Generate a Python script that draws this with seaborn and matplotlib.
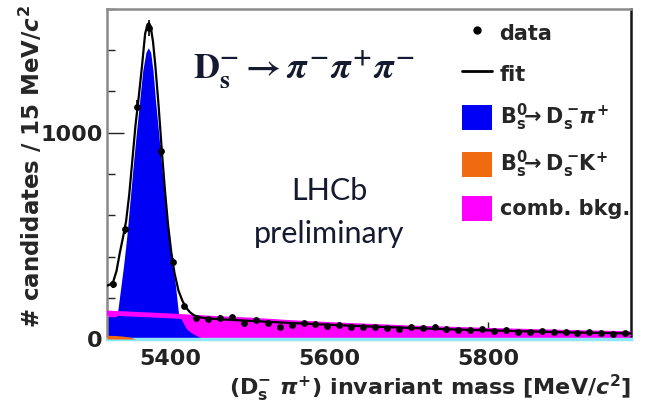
import numpy as np
import pandas as pd
import matplotlib
matplotlib.use("Agg")
import matplotlib.pyplot as plt
from matplotlib.lines import Line2D
from matplotlib.patches import Patch
from matplotlib.ticker import MultipleLocator
import seaborn as sns

# ---------------- data ----------------
bin_centers = np.arange(5327.5, 5980, 15)
counts = [265, 532, 1127, 1510, 912, 372, 160, 104, 96, 104, 106, 80, 92, 80,
          58, 66, 78, 72, 62, 70, 60, 56, 58, 52, 50, 58, 54, 56, 50, 46, 44,
          48, 40, 42, 36, 34, 38, 33, 35, 30, 33, 28, 24, 27]
count_err = [16, 23, 34, 39, 30, 19, 13, 10, 10, 10, 10, 9, 10, 9, 8, 8, 9, 8,
             8, 8, 8, 7, 8, 7, 7, 8, 7, 7, 7, 7, 7, 7, 6, 6, 6, 6, 6, 6, 6, 5,
             6, 5, 5, 5]

fit_x = [5320, 5324, 5328, 5332, 5336, 5340, 5344, 5348, 5352, 5356, 5360,
         5364, 5368, 5371, 5373, 5375, 5378, 5381, 5385, 5389, 5393, 5397,
         5401, 5405, 5410, 5415, 5420, 5425, 5430, 5438, 5450, 5475, 5500,
         5550, 5600, 5650, 5700, 5750, 5800, 5850, 5900, 5950, 5980]
fit_y = [258, 265, 280, 330, 415, 490, 570, 700, 870, 1040, 1175, 1320, 1480,
         1525, 1532, 1515, 1440, 1320, 1130, 915, 720, 550, 420, 320, 235, 185,
         150, 128, 114, 104, 99, 93, 88, 78, 69, 61, 54, 47, 42, 37, 32, 29, 27]

sig_x = [5320, 5332, 5334, 5337, 5341, 5345, 5349, 5353, 5357, 5361, 5365,
         5369, 5372, 5375, 5378, 5381, 5385, 5389, 5393, 5397, 5401, 5406,
         5410, 5415, 5420, 5425, 5430, 5436, 5442, 5980]
sig_y = [108, 108, 150, 240, 360, 500, 670, 840, 1000, 1150, 1300, 1390, 1412,
         1390, 1300, 1160, 1000, 833, 670, 520, 380, 267, 125, 85, 50, 33, 22,
         10, 3, 0]

dsk_x = [5320, 5330, 5340, 5348, 5352, 5356, 5980]
dsk_y = [18, 17, 14, 10, 5, 0, 0]

comb_x = [5320, 5400, 5450, 5500, 5550, 5600, 5650, 5700, 5750, 5800, 5850,
          5900, 5950, 5980]
comb_y = [126, 112, 101, 92, 80, 70, 62, 54, 48, 42, 37, 32, 28, 26]

legend_labels = ["data", "fit",
                 r"$\mathbf{B^0_s}\!\!\rightarrow \mathbf{D^-_s}\!\pi^{+}$",
                 r"$\mathbf{B^0_s}\!\!\rightarrow \mathbf{D^-_s}\!\mathbf{K^{+}}$",
                 "comb. bkg."]

# ---------------- style ----------------
sns.set_theme(style="white")
plt.rcParams["font.family"] = ["DejaVu Sans"]
plt.rcParams["font.weight"] = "bold"
plt.rcParams["mathtext.fontset"] = "dejavusans"

BLUE = "#0000f5"
ORANGE = "#f06a10"
MAGENTA = "#ff00ff"
NAVY = "#161a30"

fig = plt.figure(figsize=(6.45, 4.13), dpi=100)
ax = fig.add_axes([107 / 645, 1 - 339 / 413, (631 - 107) / 645, (339 - 9) / 413])

# filled components
ax.fill_between(comb_x, 0, comb_y, color=MAGENTA, lw=0, zorder=1)
ax.fill_between(sig_x, 0, sig_y, color=BLUE, lw=0, zorder=2)
ax.fill_between(dsk_x, 0, dsk_y, color=ORANGE, lw=0, zorder=3)

comb_df = pd.DataFrame({"m": comb_x, "n": comb_y})
sns.lineplot(data=comb_df, x="m", y="n", color=MAGENTA, lw=3.5, ax=ax,
             estimator=None, sort=False, zorder=4)

fit_df = pd.DataFrame({"m": fit_x, "n": fit_y})
sns.lineplot(data=fit_df, x="m", y="n", color="black", lw=1.6, ax=ax,
             estimator=None, sort=False, zorder=5)

ax.errorbar(bin_centers, counts, yerr=count_err, fmt="none", ecolor="black",
            elinewidth=1.2, zorder=6)
data_df = pd.DataFrame({"m": bin_centers, "n": counts})
sns.scatterplot(data=data_df, x="m", y="n", color="black", s=24,
                edgecolor="black", linewidth=0, ax=ax, zorder=7)

ax.set_xlim(5320, 5980)
ax.set_ylim(0, 1600)

ax.xaxis.set_major_locator(MultipleLocator(200))
ax.xaxis.set_minor_locator(MultipleLocator(50))
ax.yaxis.set_major_locator(MultipleLocator(1000))
ax.yaxis.set_minor_locator(MultipleLocator(200))
ax.tick_params(which="both", direction="in", colors="#222222", width=1.0,
               bottom=True, left=True, top=False, right=False)
ax.tick_params(which="major", length=12, labelsize=16)
ax.tick_params(which="minor", length=6)
ax.tick_params(axis="x", which="major", pad=7)
ax.tick_params(axis="y", which="major", pad=3)
for lab in ax.get_xticklabels() + ax.get_yticklabels():
    lab.set_fontweight("bold")

for side in ["top", "left"]:
    ax.spines[side].set_color("#8a8a8a")
    ax.spines[side].set_linewidth(1.8)
ax.spines["right"].set_color("#151515")
ax.spines["right"].set_linewidth(1.8)
ax.spines["bottom"].set_color("#8ee6f8")
ax.spines["bottom"].set_linewidth(2.5)

ax.set_xlabel(r"($\mathbf{D^{-}_{s}}$ $\pi^{+}$) invariant mass [MeV/$\mathit{c}^{2}$]",
              fontsize=16, fontweight="bold", loc="right", labelpad=3)
ax.set_ylabel(r"# candidates / 15 MeV/$\mathit{c}^{2}$", fontsize=16.5,
              fontweight="bold", loc="top")
ax.yaxis.set_label_coords((45 - 107) / 524, 1 + 4 / 330)

# decay text and LHCb label
fig.text(193 / 645, 1 - 78 / 413, r"$\mathrm{D}_\mathrm{s}^{-}\rightarrow\pi^{-}\pi^{+}\pi^{-}$",
         fontsize=26, math_fontfamily="stix", color=NAVY, va="baseline", ha="left")
fig.text(329 / 645, 1 - 200 / 413, "LHCb", fontsize=22, family="Lato",
         fontweight="normal", color=NAVY, ha="center", va="baseline")
fig.text(329 / 645, 1 - 243 / 413, "preliminary", fontsize=22, family="Lato",
         fontweight="normal", color=NAVY, ha="center", va="baseline")

handles = [Line2D([], [], marker="o", color="black", ls="none", ms=5),
           Line2D([], [], color="black", lw=2),
           Patch(facecolor=BLUE, edgecolor="none"),
           Patch(facecolor=ORANGE, edgecolor="none"),
           Patch(facecolor=MAGENTA, edgecolor="none")]
leg = ax.legend(handles, legend_labels, loc="upper left",
                bbox_to_anchor=(462 / 645, 1 - 20 / 413),
                bbox_transform=fig.transFigure, frameon=False,
                prop={"size": 15, "weight": "bold"}, handlelength=1.45,
                handleheight=1.5, handletextpad=0.35, labelspacing=0.75,
                borderpad=0, borderaxespad=0)
leg.set_zorder(10)

fig.savefig("out.png", dpi=100)
